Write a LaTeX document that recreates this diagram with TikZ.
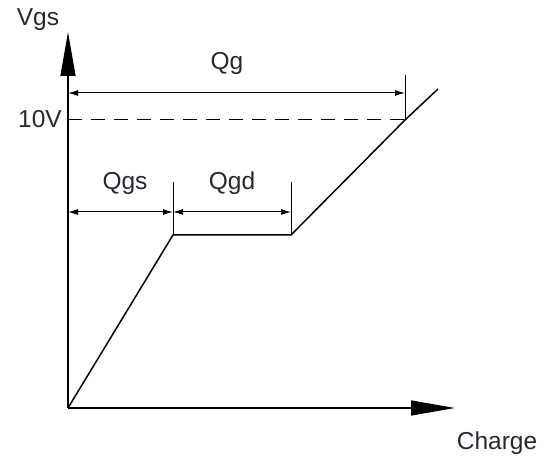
\documentclass[tikz,border=0pt]{standalone}
\usepackage{fontspec}
\setmainfont{Liberation Sans}
\usetikzlibrary{arrows.meta}
\definecolor{txt}{HTML}{262A30}
\tikzset{axis/.style = {line width=1.3pt, -{Triangle[length=44pt, width=15pt]}}}
\tikzset{dim/.style = {line width=1pt, {Latex[length=10pt, width=6pt]}-{Latex[length=10pt, width=6pt]}}}
\tikzset{tick/.style = {line width=1pt}}
\tikzset{lbl/.style = {text=txt, font=\fontsize{24.5}{26}\selectfont, inner sep=0pt}}

\begin{document}
\begin{tikzpicture}[x=1pt, y=1pt]
          \useasboundingbox (0, 0) rectangle (547, 466);
          \coordinate (o) at (68, 58);
          \coordinate (ytop) at (68, 434);
          \coordinate (xend) at (455, 58);
          \coordinate (a) at (173, 231);
          \coordinate (b) at (291, 231);
          \coordinate (c) at (405, 346);
          \coordinate (d) at (438, 377);

          \draw[axis] (o) to (ytop);
          \draw[axis] (o) to (xend);
          \draw[line width=1.5pt] (o) -- (a) -- (b) -- (c) -- (d);
          \draw[line width=1pt, dash pattern=on 14pt off 9pt] (68, 346) -- (c);

          \draw[tick] (c) -- (405, 391);
          \draw[tick] (a) -- (173, 284);
          \draw[tick] (b) -- (291, 284);
          \draw[dim] (68, 373) -- (405, 373);
          \draw[dim] (68, 254) -- (173, 254);
          \draw[dim] (173, 254) -- (291, 254);

          \node[lbl] (vgs) at (38, 446) {Vgs};
          \node[lbl, anchor=east] (ten) at (62, 347) {10V};
          \node[lbl] (qg) at (227, 403) {Qg};
          \node[lbl] (qgs) at (125, 283) {Qgs};
          \node[lbl] (qgd) at (232, 283) {Qgd};
          \node[lbl] (charge) at (497, 23) {Charge};
        \end{tikzpicture}
\end{document}
